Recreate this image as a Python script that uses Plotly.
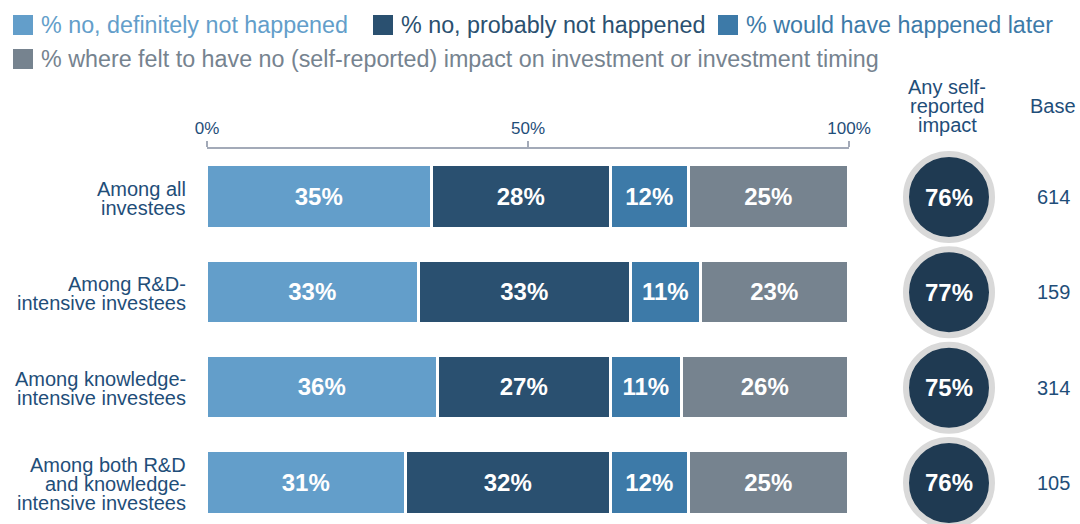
import plotly.graph_objects as go

# ---- data ----
categories = [
    "Among all<br>investees",
    "Among R&D-<br>intensive investees",
    "Among knowledge-<br>intensive investees",
    "Among both R&D<br>and knowledge-<br>intensive investees",
]
series_names = [
    "% no, definitely not happened",
    "% no, probably not happened",
    "% would have happened later",
    "% where felt to have no (self-reported) impact on investment or investment timing",
]
definitely_not = [35, 33, 36, 31]
probably_not = [28, 33, 27, 32]
happened_later = [12, 11, 11, 12]
no_impact = [25, 23, 26, 25]
any_impact = [76, 77, 75, 76]
base_sizes = [614, 159, 314, 105]
tick_vals = [0, 50, 100]
tick_text = ["0%", "50%", "100%"]
impact_header = ["Any self-", "reported", "impact"]
base_header = "Base"

# ---- styling ----
W, H = 1080, 524
TOP = 149                     # axis line / top of plot area in pixels
ROW0, ROW_STEP = 197, 95.33   # pixel centre of first row and row spacing
LEADING = 19                  # line spacing of the multi-line labels
FONT = "Liberation Sans, Arial, sans-serif"
TEXT_BLUE = "#1F4E79"
AXIS_GREY = "#A3AAB8"
seg_colors = ["#639ECA", "#2A5070", "#3D7AA8", "#76838F"]
circle_fill = "#1F3A52"
circle_ring = "#D9D9D9"
CIRCLE_X = 949

series_values = [definitely_not, probably_not, happened_later, no_impact]
rows = list(range(len(categories)))


def py_to_paper(py):
    return (H - py) / (H - TOP)


fig = go.Figure()

for name, vals, col in zip(series_names, series_values, seg_colors):
    fig.add_trace(go.Bar(
        x=vals, y=rows, orientation="h", name=name,
        marker=dict(color=col, line=dict(color="white", width=3.5)),
        width=0.665,
        text=[f"{v}%" for v in vals],
        textposition="inside", insidetextanchor="middle",
        constraintext="none",
        textfont=dict(family=FONT, size=24, color="white", weight="bold"),
        hoverinfo="skip", showlegend=False,
    ))

# circles with the overall self-reported impact
fig.add_trace(go.Scatter(
    x=[CIRCLE_X] * len(rows), y=rows, xaxis="x2", yaxis="y",
    mode="markers",
    marker=dict(size=86, color=circle_fill, line=dict(color=circle_ring, width=6)),
    cliponaxis=False, hoverinfo="skip", showlegend=False,
))

annotations = []
shapes = []

# values inside the circles
for i, v in enumerate(any_impact):
    annotations.append(dict(
        x=CIRCLE_X, xref="x2", y=i, yref="y", xanchor="center", yanchor="middle",
        text=f"<b>{v}%</b>", showarrow=False,
        font=dict(family=FONT, size=24, color="white"),
    ))

# category labels, one annotation per line for tight leading
for i, cat in enumerate(categories):
    lines = cat.split("<br>")
    n = len(lines)
    for j, line in enumerate(lines):
        annotations.append(dict(
            x=188, xref="x2", y=i, yref="y", xanchor="right", yanchor="middle",
            yshift=-((j - (n - 1) / 2) * LEADING) - 1,
            text=line, showarrow=False,
            font=dict(family=FONT, size=20, color=TEXT_BLUE),
        ))

# base sizes
for i, b in enumerate(base_sizes):
    annotations.append(dict(
        x=1053, xref="x2", y=i, yref="y", xanchor="center", yanchor="middle",
        text=str(b), showarrow=False,
        font=dict(family=FONT, size=20, color=TEXT_BLUE),
    ))

# column headers
for j, line in enumerate(impact_header):
    annotations.append(dict(
        x=947, xref="x2", y=py_to_paper(87 + LEADING * j), yref="paper",
        xanchor="center", yanchor="middle", text=line, showarrow=False,
        font=dict(family=FONT, size=20, color=TEXT_BLUE),
    ))
annotations.append(dict(
    x=1053, xref="x2", y=py_to_paper(106), yref="paper",
    xanchor="center", yanchor="middle", text=base_header, showarrow=False,
    font=dict(family=FONT, size=20, color=TEXT_BLUE),
))

# legend: coloured squares with matching coloured text
legend_pos = [(13, 25), (373, 25), (718, 25), (13, 59)]
for name, col, (lx, ly) in zip(series_names, seg_colors, legend_pos):
    shapes.append(dict(
        type="rect", xref="x2", yref="paper",
        x0=lx, x1=lx + 20, y0=py_to_paper(ly - 10), y1=py_to_paper(ly + 10),
        fillcolor=col, line=dict(width=0),
    ))
    annotations.append(dict(
        x=lx + 26, xref="x2", y=py_to_paper(ly), yref="paper",
        xanchor="left", yanchor="middle", text=name, showarrow=False,
        font=dict(family=FONT, size=23.3, color=col),
    ))

fig.update_layout(
    width=W, height=H,
    margin=dict(l=0, r=0, t=TOP, b=0, pad=0, autoexpand=False),
    paper_bgcolor="white", plot_bgcolor="rgba(0,0,0,0)",
    barmode="stack", bargap=0,
    font=dict(family=FONT, color=TEXT_BLUE),
    xaxis=dict(
        domain=[207 / W, 849 / W], range=[0, 100], side="top", anchor="y",
        tickvals=tick_vals, ticktext=tick_text,
        ticks="outside", ticklen=6, tickwidth=1.5, tickcolor=AXIS_GREY,
        showline=True, linecolor=AXIS_GREY, linewidth=1.5,
        showgrid=False, zeroline=False, fixedrange=True, automargin=False,
        tickfont=dict(family=FONT, size=17, color=TEXT_BLUE),
    ),
    xaxis2=dict(domain=[0, 1], range=[0, W], anchor="y", visible=False,
                fixedrange=True, automargin=False),
    yaxis=dict(
        range=[(H - ROW0) / ROW_STEP, -(ROW0 - TOP) / ROW_STEP],
        visible=False, fixedrange=True, domain=[0, 1], automargin=False,
    ),
    annotations=annotations,
    shapes=shapes,
    showlegend=False,
)

fig.write_html("out.html")
